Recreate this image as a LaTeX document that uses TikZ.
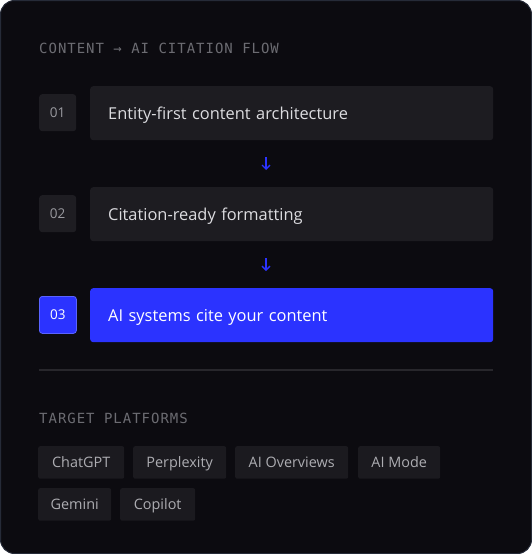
\documentclass[tikz,border=0pt]{standalone}
\usepackage{fontspec}
\setmainfont{Open Sans}
\newfontfamily\monofont[LetterSpace=7]{DejaVu Sans Mono}
\usetikzlibrary{arrows.meta}
\definecolor{cardbg}{HTML}{0C0B10}
\definecolor{cardborder}{HTML}{262B38}
\definecolor{barbg}{HTML}{1D1C21}
\definecolor{numbg}{HTML}{1E1D22}
\definecolor{accent}{HTML}{2B33FF}
\definecolor{accentlight}{HTML}{5A63FF}
\definecolor{maintext}{HTML}{DCDCE0}
\definecolor{numtext}{HTML}{9A9AA0}
\definecolor{monotext}{HTML}{6C6C72}
\definecolor{chipbg}{HTML}{1B1A1F}
\definecolor{chiptext}{HTML}{ADADB2}
\definecolor{divider}{HTML}{28272C}
\tikzset{
  caption/.style={anchor=west, inner sep=0pt, text=monotext, font=\monofont\fontsize{14}{16}\selectfont},
  numbox/.style={anchor=north west, fill=numbg, rounded corners=3pt, minimum width=37pt, minimum height=37pt, inner sep=0pt, text height=9.6pt, text depth=0pt, text=numtext, font=\fontsize{13.5}{16}\selectfont},
  numactive/.style={numbox, fill=accent, draw=accentlight, line width=0.8pt, text=white},
  stepbar/.style={anchor=north west, fill=barbg, rounded corners=3pt, minimum width=403pt, minimum height=54pt, text width=367pt, inner xsep=18pt, inner ysep=0pt, text height=11.7pt, text depth=0pt, align=left, text=maintext, font=\fontsize{16.4}{19}\selectfont},
  stepactive/.style={stepbar, fill=accent, text=white},
  flowarrow/.style={draw=accent, line width=1.3pt, -{Straight Barb[length=4pt, width=8pt]}, shorten <=17pt, shorten >=17pt},
  chip/.style={anchor=north west, fill=chipbg, rounded corners=2pt, minimum height=32.5pt, inner xsep=0pt, inner ysep=0pt, text height=10.3pt, text depth=0pt, text=chiptext, font=\fontsize{14.4}{17}\selectfont},
}
\begin{document}
\begin{tikzpicture}[x=1pt, y=-1pt]
\fill[white] (0,0) rectangle (532,554);
\useasboundingbox (0,0) rectangle (532,554);
\draw[fill=cardbg, draw=cardborder, line width=1pt, rounded corners=14pt] (0.5,0.5) rectangle (531.5,553.5);
\node[caption] (title) at (39,48.5) {CONTENT → AI CITATION FLOW};
% steps
\node[numbox] (n1) at (39,94) {01};
\node[stepbar] (s1) at (90,86) {Entity-first content architecture};
\node[numbox] (n2) at (39,195) {02};
\node[stepbar] (s2) at (90,187) {Citation-ready formatting};
\node[numactive] (n3) at (39,296) {03};
\node[stepactive] (s3) at (90,288) {AI systems cite your content};
\coordinate (a1s) at (266,140);
\coordinate (a1e) at (266,187);
\coordinate (a2s) at (266,241);
\coordinate (a2e) at (266,288);
\draw[flowarrow] (a1s) -- (a1e);
\draw[flowarrow] (a2s) -- (a2e);
% divider
\coordinate (d1) at (39,370);
\coordinate (d2) at (493,370);
\draw[divider, line width=1.5pt] (d1) -- (d2);
\node[caption] (platforms) at (39,418) {TARGET PLATFORMS};
% chips
\node[chip, minimum width=86pt] (c1) at (38,446) {ChatGPT};
\node[chip, minimum width=93pt] (c2) at (133,446) {Perplexity};
\node[chip, minimum width=113pt] (c3) at (235,446) {AI Overviews};
\node[chip, minimum width=82pt] (c4) at (358,446) {AI Mode};
\node[chip, minimum width=73pt] (c5) at (38,488) {Gemini};
\node[chip, minimum width=75pt] (c6) at (120,488) {Copilot};
\end{tikzpicture}
\end{document}
